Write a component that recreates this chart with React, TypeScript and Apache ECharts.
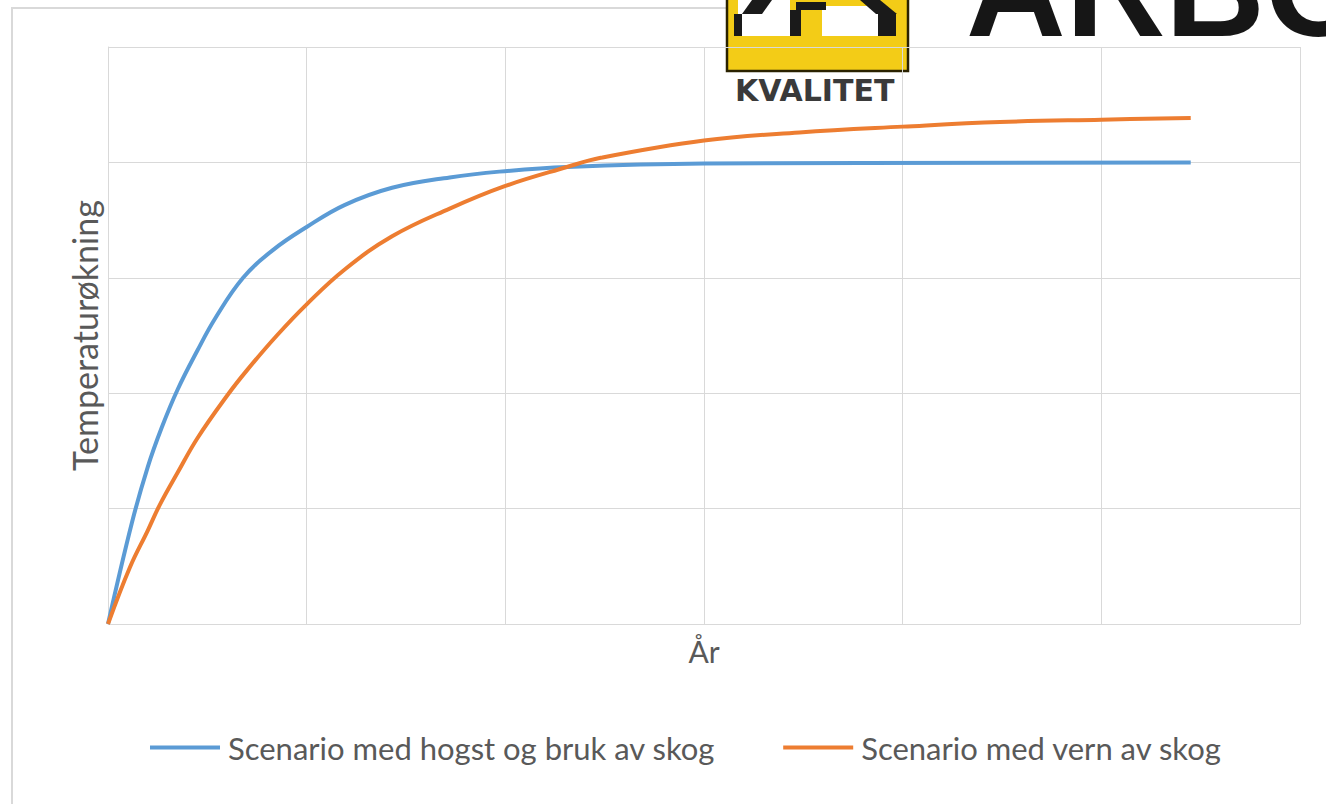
import React, { useEffect, useRef } from "react";
import * as echarts from "echarts";

// x positions (år) and temperature increase values
const blueYears = [0, 12, 20, 27, 35, 45, 54, 68, 83, 100, 119, 143, 172, 197, 231, 300, 545];
const blueValues = [0, 0.875, 1.36, 1.7, 2.03, 2.37, 2.65, 3.0, 3.24, 3.44, 3.63, 3.78, 3.87, 3.92, 3.96, 3.99, 4.0];

const orangeYears = [0, 11, 20, 26, 35, 45, 60, 70, 85, 100, 119, 143, 172, 199, 231, 248, 300, 348, 400, 449, 500, 545];
const orangeValues = [0, 0.49, 0.81, 1.03, 1.31, 1.61, 1.98, 2.2, 2.5, 2.77, 3.07, 3.36, 3.6, 3.79, 3.96, 4.04, 4.19, 4.26, 4.31, 4.35, 4.37, 4.385];

const seriesNames = ["Scenario med hogst og bruk av skog", "Scenario med vern av skog"];
const xAxisTitle = "År";
const yAxisTitle = "Temperaturøkning";

const textColor = "#595959";
const gridColor = "#d9d9d9";
const font = "Lato, 'Noto Sans', sans-serif";

export default function App() {
  const ref = useRef<HTMLDivElement>(null);
  useEffect(() => {
    if (!ref.current) return;
    const chart = echarts.init(ref.current, undefined, { renderer: "svg" });
    const pairs = (xs: number[], ys: number[]) => xs.map((x, i) => [x, ys[i]]);
    chart.setOption({
      animation: false,
      backgroundColor: "#ffffff",
      textStyle: { fontFamily: font },
      grid: { left: 108, right: 26, top: 47, bottom: 180 },
      xAxis: {
        type: "value",
        min: 0,
        max: 600,
        interval: 100,
        name: xAxisTitle,
        nameLocation: "middle",
        nameGap: 12,
        nameTextStyle: { color: textColor, fontSize: 30, fontFamily: font, verticalAlign: "top" },
        axisLine: { show: true, lineStyle: { color: gridColor, width: 1 } },
        axisTick: { show: false },
        axisLabel: { show: false },
        splitLine: { show: true, lineStyle: { color: gridColor, width: 1 } },
      },
      yAxis: {
        type: "value",
        min: 0,
        max: 5,
        interval: 1,
        name: yAxisTitle,
        nameLocation: "middle",
        nameGap: 7,
        nameTextStyle: { color: textColor, fontSize: 34, fontFamily: font },
        axisLine: { show: true, lineStyle: { color: gridColor, width: 1 } },
        axisTick: { show: false },
        axisLabel: { show: false },
        splitLine: { show: true, lineStyle: { color: gridColor, width: 1 } },
      },
      legend: {
        left: 150,
        top: 732,
        padding: 0,
        icon: "rect",
        itemWidth: 70,
        itemHeight: 4,
        itemGap: 68,
        textStyle: { color: textColor, fontSize: 31, fontFamily: font, padding: [0, 0, 0, 3] },
        data: seriesNames,
      },
      series: [
        {
          name: seriesNames[0],
          type: "line",
          data: pairs(blueYears, blueValues),
          smooth: 0.4,
          showSymbol: false,
          symbol: "none",
          lineStyle: { color: "#5B9BD5", width: 4 },
          itemStyle: { color: "#5B9BD5" },
        },
        {
          name: seriesNames[1],
          type: "line",
          data: pairs(orangeYears, orangeValues),
          smooth: 0.4,
          showSymbol: false,
          symbol: "none",
          lineStyle: { color: "#ED7D31", width: 4 },
          itemStyle: { color: "#ED7D31" },
        },
      ],
      graphic: [
        {
          type: "rect",
          z: -10,
          silent: true,
          shape: { x: 12, y: 8, width: 1400, height: 900 },
          style: { fill: "none", stroke: "#d9d9d9", lineWidth: 2 },
        },
        {
          type: "group",
          z: 100,
          children: [
            { type: "rect", shape: { x: 726, y: 0, width: 600, height: 102 }, style: { fill: "#ffffff" } },
            {
              type: "rect",
              shape: { x: 727, y: -6, width: 181, height: 77 },
              style: { fill: "#F3CC17", stroke: "#2a2200", lineWidth: 2.5 },
            },
            { type: "rect", shape: { x: 738, y: 0, width: 52, height: 36 }, style: { fill: "#ffffff" } },
            { type: "rect", shape: { x: 822, y: 6, width: 56, height: 30 }, style: { fill: "#ffffff" } },
            { type: "polygon", shape: { points: [[752, 0], [772, 0], [762, 14], [742, 14]] }, style: { fill: "#1a1a1a" } },
            { type: "rect", shape: { x: 734, y: 14, width: 8, height: 22 }, style: { fill: "#1a1a1a" } },
            { type: "rect", shape: { x: 790, y: 10, width: 11, height: 26 }, style: { fill: "#1a1a1a" } },
            { type: "rect", shape: { x: 796, y: 2, width: 30, height: 8 }, style: { fill: "#1a1a1a" } },
            { type: "rect", shape: { x: 801, y: 10, width: 21, height: 5 }, style: { fill: "#F3CC17" } },
            { type: "polygon", shape: { points: [[860, 0], [880, 0], [897, 14], [876, 14]] }, style: { fill: "#1a1a1a" } },
            { type: "rect", shape: { x: 878, y: 14, width: 18, height: 22 }, style: { fill: "#1a1a1a" } },
            {
              type: "text",
              style: {
                text: "KVALITET",
                x: 735,
                y: 90,
                verticalAlign: "middle",
                font: "bold 30px 'DejaVu Sans', sans-serif",
                fill: "#3a3a3a",
              },
            },
            {
              type: "text",
              style: {
                text: "ARBO",
                x: 966,
                y: -12,
                verticalAlign: "middle",
                font: "bold 138px 'Liberation Sans', Arial, sans-serif",
                fill: "#161616",
              },
            },
          ],
        },
      ],
    });
    return () => chart.dispose();
  }, []);
  return <div ref={ref} style={{ position: "absolute", left: 0, top: 0, width: 1326, height: 804 }} />;
}
